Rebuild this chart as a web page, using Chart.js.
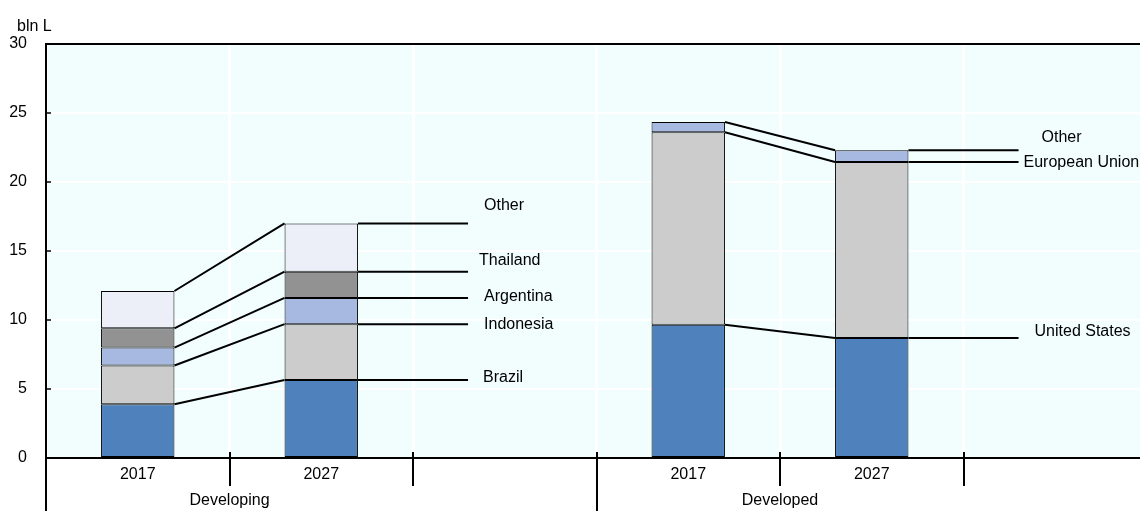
<!DOCTYPE html>
<html>
<head>
<meta charset="utf-8">
<script src="https://cdn.jsdelivr.net/npm/chart.js@4/dist/chart.umd.min.js"></script>
<style>
  html, body { margin: 0; padding: 0; background: #ffffff; overflow: hidden; }
  #wrap { position: relative; width: 1147px; height: 511px; }
</style>
</head>
<body>
<div id="wrap"><canvas id="c"></canvas></div>
<script>
// ---- data ----
const categories = ['2017', '2027', '', '2017', '2027', ''];
const groupLabels = ['Developing', 'Developed'];
const yTicks = [0, 5, 10, 15, 20, 25, 30];
const unitLabel = 'bln L';

// Developing (2017, 2027)
const brazil = [3.9, 5.65];
const indonesia = [2.8, 4.05];
const argentina = [1.3, 1.9];
const thailand = [1.4, 1.9];
const otherDeveloping = [2.7, 3.5];
const developingNames = ['Brazil', 'Indonesia', 'Argentina', 'Thailand', 'Other'];

// Developed (2017, 2027)
const unitedStates = [9.65, 8.7];
const europeanUnion = [13.95, 12.75];
const otherDeveloped = [0.75, 0.85];
const developedNames = ['United States', 'European Union', 'Other'];

// ---- build stacked layers (bottom to top) ----
const layers = [
  [...brazil, null, ...unitedStates, null],
  [...indonesia, null, ...europeanUnion, null],
  [...argentina, null, ...otherDeveloped, null],
  [...thailand, null, null, null, null],
  [...otherDeveloping, null, null, null, null]
];
const layerColors = ['#4f81bd', '#cccccc', '#a7b9e1', '#929292', '#eceff8'];

const FONT = "'Liberation Sans', Arial, sans-serif";

// label offsets (position styling only)
const devLabelPos = [ {dx: 15, dy: -2.5}, {dx: 16, dy: 0}, {dx: 16, dy: -1.5}, {dx: 11, dy: -11.5}, {dx: 16, dy: -18} ];
const dvdLabelPos = [ {dx: 16, dy: -6}, {dx: 5, dy: 1}, {dx: 23, dy: -13} ];

const decorPlugin = {
  id: 'decor',
  beforeDraw(chart) {
    const {ctx, chartArea: a} = chart;
    ctx.save();
    ctx.fillStyle = '#f2fefe';
    ctx.fillRect(a.left, a.top, a.right - a.left, a.bottom - a.top);
    ctx.restore();
  },
  afterDatasetsDraw(chart) {
    const {ctx, scales} = chart;
    const x = scales.x;
    const slot = (x.getPixelForValue(1) - x.getPixelForValue(0));
    ctx.save();
    ctx.strokeStyle = '#000';
    ctx.lineWidth = 2;
    const groups = [[0, 1, developingNames, devLabelPos], [3, 4, developedNames, dvdLabelPos]];
    groups.forEach(([i0, i1, names, pos]) => {
      let li = 0;
      for (let d = 0; d < layers.length; d++) {
        const meta = chart.getDatasetMeta(d);
        const b0 = meta.data[i0], b1 = meta.data[i1];
        if (layers[d][i0] == null || layers[d][i1] == null) continue;
        const endX = x.getPixelForValue(i1) + 0.8 * slot;
        ctx.beginPath();
        ctx.moveTo(b0.x + b0.width / 2, b0.y);
        ctx.lineTo(b1.x - b1.width / 2, b1.y);
        ctx.moveTo(b1.x + b1.width / 2, b1.y);
        ctx.lineTo(endX, b1.y);
        ctx.stroke();
        ctx.fillStyle = '#000';
        ctx.font = '16px ' + FONT;
        ctx.textAlign = 'left';
        ctx.textBaseline = 'middle';
        ctx.fillText(names[li], endX + pos[li].dx, b1.y + pos[li].dy);
        li++;
      }
    });
    ctx.restore();
  },
  afterDraw(chart) {
    const {ctx, chartArea: a, scales} = chart;
    const x = scales.x, y = scales.y;
    const slot = (x.getPixelForValue(1) - x.getPixelForValue(0));
    ctx.save();
    ctx.strokeStyle = '#000';
    ctx.lineWidth = 2;
    ctx.beginPath();
    ctx.moveTo(a.left - 1, a.top);
    ctx.lineTo(a.right, a.top);
    ctx.stroke();
    ctx.beginPath();
    ctx.moveTo(a.left, a.top);
    ctx.lineTo(a.left, chart.height);
    ctx.stroke();
    ctx.lineWidth = 1.5;
    yTicks.forEach(v => {
      if (v === 0 || v === 30) return;
      const py = y.getPixelForValue(v);
      ctx.beginPath();
      ctx.moveTo(a.left, py);
      ctx.lineTo(a.left + 5, py);
      ctx.stroke();
    });
    ctx.lineWidth = 2;
    for (let i = 1; i < categories.length; i++) {
      const px = Math.round(x.getPixelForValue(i) - slot / 2);
      ctx.beginPath();
      ctx.moveTo(px, a.bottom - 6);
      ctx.lineTo(px, i === 3 ? chart.height : a.bottom + 28);
      ctx.stroke();
    }
    ctx.fillStyle = '#000';
    ctx.font = '16px ' + FONT;
    ctx.textAlign = 'center';
    ctx.textBaseline = 'middle';
    ctx.fillText(groupLabels[0], (x.getPixelForValue(0) + x.getPixelForValue(1)) / 2, a.bottom + 43);
    ctx.fillText(groupLabels[1], (x.getPixelForValue(3) + x.getPixelForValue(4)) / 2, a.bottom + 43);
    ctx.textAlign = 'left';
    ctx.fillText(unitLabel, 17, 27);
    ctx.restore();
  }
};

new Chart(document.getElementById('c'), {
  type: 'bar',
  data: {
    labels: categories,
    datasets: layers.map((vals, i) => ({
      data: vals,
      backgroundColor: layerColors[i],
      borderColor: '#000',
      borderWidth: 1,
      borderSkipped: false,
      categoryPercentage: 1,
      barPercentage: 0.4
    }))
  },
  options: {
    responsive: true,
    maintainAspectRatio: false,
    animation: false,
    layout: { padding: { top: 44, left: 0, right: 0, bottom: 0 } },
    plugins: { legend: { display: false }, tooltip: { enabled: false } },
    scales: {
      x: {
        stacked: true,
        afterFit(s) { s.height = 53; },
        grid: { color: '#ffffff', lineWidth: 3, drawTicks: false, offset: true },
        border: { display: true, color: '#000', width: 2 },
        ticks: { color: '#000', font: { family: FONT, size: 16 }, padding: 7, maxRotation: 0, autoSkip: false }
      },
      y: {
        stacked: true,
        min: 0, max: 30,
        afterFit(s) { s.width = 46; },
        afterBuildTicks(s) { s.ticks = yTicks.map(v => ({ value: v })); },
        grid: { color: '#ffffff', lineWidth: 2, drawTicks: false },
        border: { display: true, color: '#000', width: 2 },
        ticks: { color: '#000', font: { family: FONT, size: 16 }, padding: 19 }
      }
    }
  },
  plugins: [decorPlugin]
});
</script>
</body>
</html>
